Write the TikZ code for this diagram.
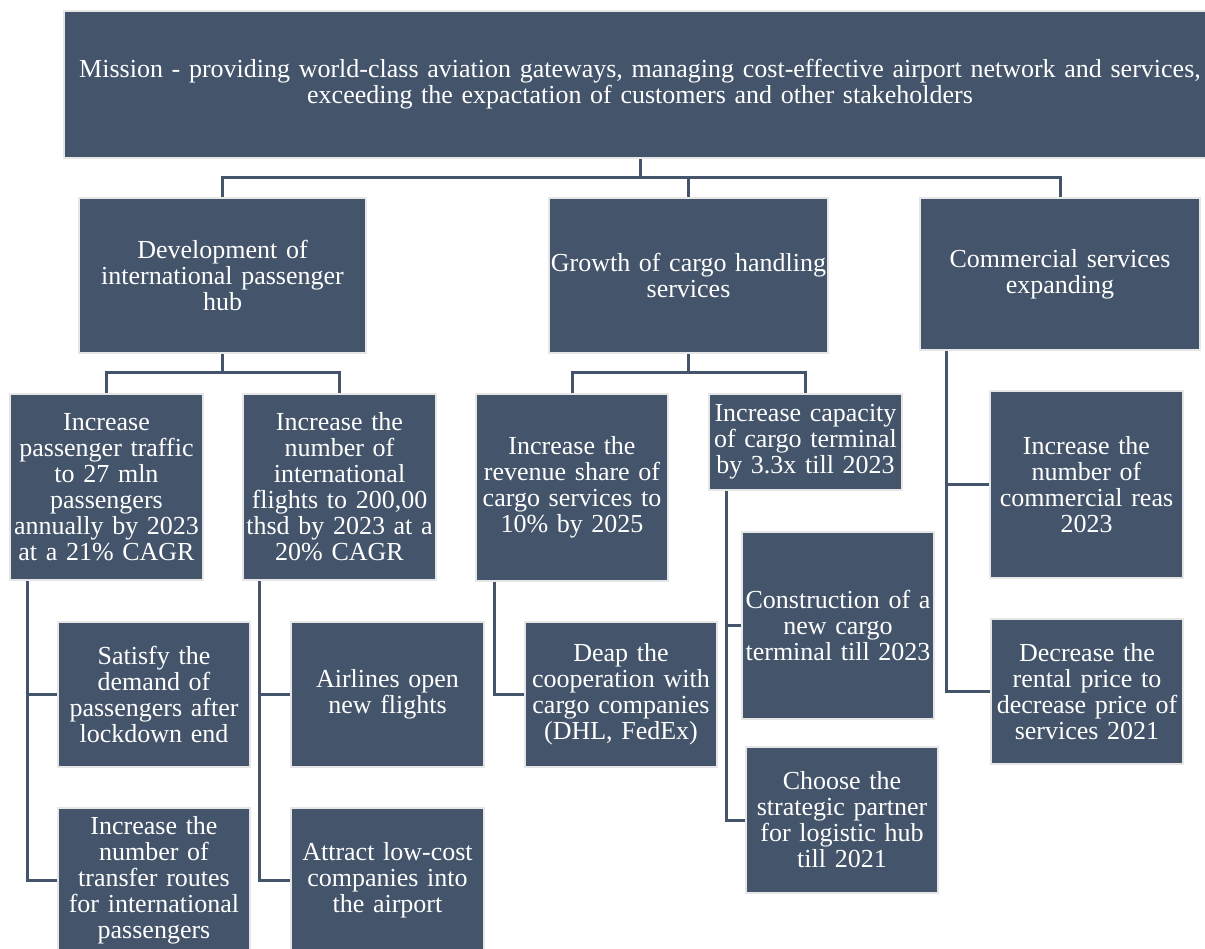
\documentclass[tikz,border=0pt]{standalone}
\usepackage{fontspec}
\setmainfont{Liberation Serif}
\usetikzlibrary{backgrounds}

\definecolor{boxfill}{RGB}{68,84,106}
\definecolor{boxedge}{RGB}{231,230,230}

\tikzset{
  box/.style={fill=boxfill, draw=boxedge, line width=2.4pt, text=white,
    align=center, inner sep=0pt,
    font=\fontsize{26}{26}\selectfont},
  conn/.style={draw=boxfill, line width=3pt}
}

\begin{document}
\begin{tikzpicture}[x=1pt, y=-1pt]
\useasboundingbox (0,0) rectangle (1205,949);
\clip (0,0) rectangle (1205,949);

% mission
\node[box, minimum width=1152pt, minimum height=147pt, text width=1146pt] (top) at (640,84.5)
  {Mission - providing world-class aviation gateways, managing cost-effective airport network and services,\\
   exceeding the expactation of customers and other stakeholders};

% strategic directions
\node[box, minimum width=287pt, minimum height=155pt, text width=281pt] (A) at (222.5,275.5)
  {Development of\\international passenger\\hub};
\node[box, minimum width=279pt, minimum height=155pt, text width=277pt] (B) at (688.5,275.5)
  {Growth of cargo handling\\services};
\node[box, minimum width=280pt, minimum height=152pt, text width=274pt] (C) at (1060,274)
  {Commercial services\\expanding};

% goals
\node[box, minimum width=193pt, minimum height=186pt, text width=189pt] (A1) at (106.5,487)
  {Increase\\passenger traffic\\to 27 mln\\passengers\\annually by 2023\\at a 21\% CAGR};
\node[box, minimum width=193pt, minimum height=186pt, text width=189pt] (A2) at (339.5,487)
  {Increase the\\number of\\international\\flights to 200,00\\thsd by 2023 at a\\20\% CAGR};
\node[box, minimum width=192pt, minimum height=187pt, text width=188pt] (B1) at (572,487.5)
  {Increase the\\revenue share of\\cargo services to\\10\% by 2025};
\node[box, minimum width=193pt, minimum height=96pt, text width=189pt] (B2) at (805.5,442)
  {Increase capacity\\of cargo terminal\\by 3.3x till 2023};
\node[box, minimum width=193pt, minimum height=187pt, text width=189pt] (C1) at (1086.5,484.5)
  {Increase the\\number of\\commercial reas\\2023};

% actions
\node[box, minimum width=192pt, minimum height=145pt, text width=188pt] (A1a) at (154,694.5)
  {Satisfy the\\demand of\\passengers after\\lockdown end};
\node[box, minimum width=192pt, minimum height=145pt, text width=188pt] (A1b) at (154,880.5)
  {Increase the\\number of\\transfer routes\\for international\\passengers};
\node[box, minimum width=193pt, minimum height=145pt, text width=189pt] (A2a) at (387.5,694.5)
  {Airlines open\\new flights};
\node[box, minimum width=193pt, minimum height=145pt, text width=189pt] (A2b) at (387.5,880.5)
  {Attract low-cost\\companies into\\the airport};
\node[box, minimum width=192pt, minimum height=145pt, text width=188pt] (B1a) at (621,694.5)
  {Deap the\\cooperation with\\cargo companies\\(DHL, FedEx)};
\node[box, minimum width=192pt, minimum height=187pt, text width=188pt] (B2a) at (838,625.5)
  {Construction of a\\new cargo\\terminal till 2023};
\node[box, minimum width=192pt, minimum height=146pt, text width=188pt] (B2b) at (842,820)
  {Choose the\\strategic partner\\for logistic hub\\till 2021};
\node[box, minimum width=192pt, minimum height=145pt, text width=188pt] (C2) at (1087,691.5)
  {Decrease the\\rental price to\\decrease price of\\services 2021};

% junction points of the tree connectors
\coordinate (j0) at (640,178);
\coordinate (jA) at (222.5,373);
\coordinate (jB) at (688.5,373);

\begin{scope}[on background layer]
  \fill[white] (0,0) rectangle (1205,949);
  \draw[conn] (top.south) -- (j0);
  \draw[conn] (A.north) |- (j0) -| (C.north);
  \draw[conn] (j0) -| (B.north);

  \draw[conn] (A.south) -- (jA);
  \draw[conn] (A1.north) |- (jA) -| (A2.north);
  \draw[conn] (B.south) -- (jB);
  \draw[conn] (B1.north) |- (jB) -| (B2.north);

  \draw[conn] ([xshift=19pt]A1.south west) |- (A1a.west);
  \draw[conn] ([xshift=19pt]A1.south west) |- (A1b.west);
  \draw[conn] ([xshift=18pt]A2.south west) |- (A2a.west);
  \draw[conn] ([xshift=18pt]A2.south west) |- (A2b.west);
  \draw[conn] ([xshift=20pt]B1.south west) |- (B1a.west);
  \draw[conn] ([xshift=19pt]B2.south west) |- (B2a.west);
  \draw[conn] ([xshift=19pt]B2.south west) |- (B2b.west);
  \draw[conn] ([xshift=28pt]C.south west) |- (C1.west);
  \draw[conn] ([xshift=28pt]C.south west) |- (C2.west);
\end{scope}
\end{tikzpicture}
\end{document}
